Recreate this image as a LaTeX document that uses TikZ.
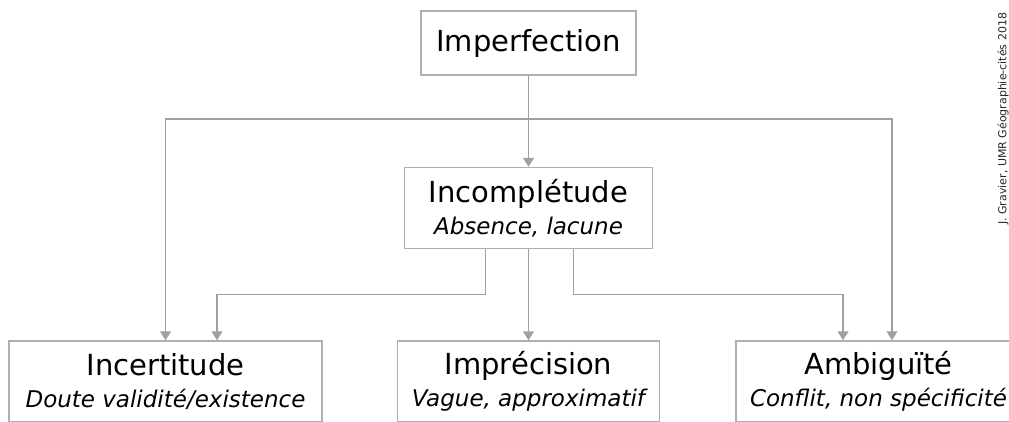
\documentclass[tikz,border=0pt]{standalone}
\usepackage{fontspec}
\setmainfont{DejaVu Sans}
\usepackage{tikz}
\usetikzlibrary{positioning,arrows.meta}
\definecolor{lineclr}{RGB}{160,160,160}
\definecolor{boxclr}{RGB}{175,175,175}
\tikzset{
  catbox/.style={rectangle,draw=boxclr,line width=1.5pt,fill=white,
                 align=center,inner sep=0pt,
                 font=\fontsize{29}{32}\selectfont},
  link/.style={draw=lineclr,line width=1.5pt,
               -{Triangle[width=11pt,length=9pt]}},
  credit/.style={font=\fontsize{11}{13}\selectfont,text=black!85,inner sep=0pt},
}
\newcommand{\subtl}[1]{{\fontsize{23}{32}\selectfont\itshape #1}}

\begin{document}
\begin{tikzpicture}[x=1pt, y=-1pt]
\useasboundingbox (0,0) rectangle (1009,421);
\clip (0,0) rectangle (1009,421);

\node[catbox, minimum width=215pt, minimum height=64pt] (imperf) at (528.5,43) {Imperfection};
\node[catbox, minimum width=248pt, minimum height=81pt, below=91pt of imperf] (incompl)
  {Incomplétude\\\subtl{Absence, lacune}};
\node[catbox, minimum width=262pt, minimum height=81pt, below=91pt of incompl] (imprec)
  {Imprécision\\\subtl{Vague, approximatif}};
\node[catbox, minimum width=313pt, minimum height=81pt, left=74pt of imprec] (incert)
  {Incertitude\\\subtl{Doute validité/existence}};
\node[catbox, minimum width=285pt, minimum height=81pt, right=75pt of imprec] (ambig)
  {Ambiguïté\\\subtl{Conflit, non spécificité}};

% branches from Imperfection
\coordinate (split) at (528.5,119);
\draw[link] (imperf) -- (incompl);
\draw[link] (split) -| (incert.north);
\draw[link] (split) -| ([xshift=13.5pt]ambig.north);

% branches from Incomplétude
\draw[link] (incompl) -- (imprec);
\draw[link] ([xshift=-43pt]incompl.south) -- ++(0,45) -| ([xshift=51.5pt]incert.north);
\draw[link] ([xshift=45pt]incompl.south) -- ++(0,45) -| ([xshift=-35.5pt]ambig.north);

\node[credit, rotate=90, anchor=base west] (source) at (1006.3,225)
  {J. Gravier, UMR Géographie-cités 2018};
\end{tikzpicture}
\end{document}
